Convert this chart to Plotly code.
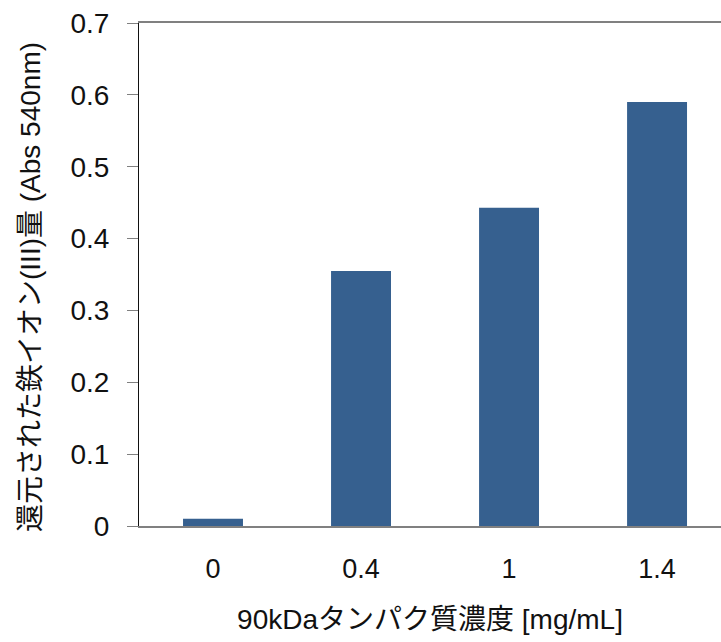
import plotly.graph_objects as go

# Protein concentration categories and reduced Fe(III) absorbance
concentrations = ["0", "0.4", "1", "1.4"]
absorbance = [0.01, 0.355, 0.443, 0.590]

y_ticks = [0, 0.1, 0.2, 0.3, 0.4, 0.5, 0.6, 0.7]
y_tick_labels = ["0", "0.1", "0.2", "0.3", "0.4", "0.5", "0.6", "0.7"]

x_title = "90kDaタンパク質濃度 [mg/mL]"
y_title = "還元された鉄イオン(III)量 (Abs 540nm)"

FONT = "Liberation Sans, Arial, Noto Sans CJK JP, sans-serif"

fig = go.Figure(
    go.Bar(
        x=list(range(len(concentrations))),
        y=absorbance,
        width=0.405,
        marker=dict(color="#36608F", line=dict(width=0)),
    )
)

fig.update_layout(
    width=721,
    height=642,
    margin=dict(l=139, r=0, t=23, b=116),
    paper_bgcolor="white",
    plot_bgcolor="white",
    showlegend=False,
    font=dict(family=FONT, size=28, color="#111111"),
    xaxis=dict(
        range=[-0.5, 3.432],
        tickmode="array",
        tickvals=list(range(len(concentrations))),
        ticktext=concentrations,
        tickfont=dict(size=27),
        showgrid=False,
        zeroline=False,
        showline=True,
        linecolor="#808080",
        linewidth=2,
        mirror=True,
        ticks="",
        ticklabelstandoff=18,
        title=dict(text=x_title, standoff=26, font=dict(size=28)),
    ),
    yaxis=dict(
        range=[0, 0.7],
        tickmode="array",
        tickvals=y_ticks,
        ticktext=y_tick_labels,
        tickfont=dict(size=28),
        showgrid=False,
        zeroline=False,
        showline=True,
        linecolor="#111111",
        linewidth=1,
        ticks="outside",
        ticklen=11,
        tickcolor="#808080",
        tickwidth=1,
        ticklabelstandoff=12,
    ),
    annotations=[
        dict(
            text=y_title,
            textangle=-90,
            xref="paper",
            yref="paper",
            x=(30 - 139) / 582,
            y=(526 - 287) / 503,
            xanchor="center",
            yanchor="middle",
            showarrow=False,
            font=dict(size=28),
        )
    ],
)

fig.write_html("out.html")
